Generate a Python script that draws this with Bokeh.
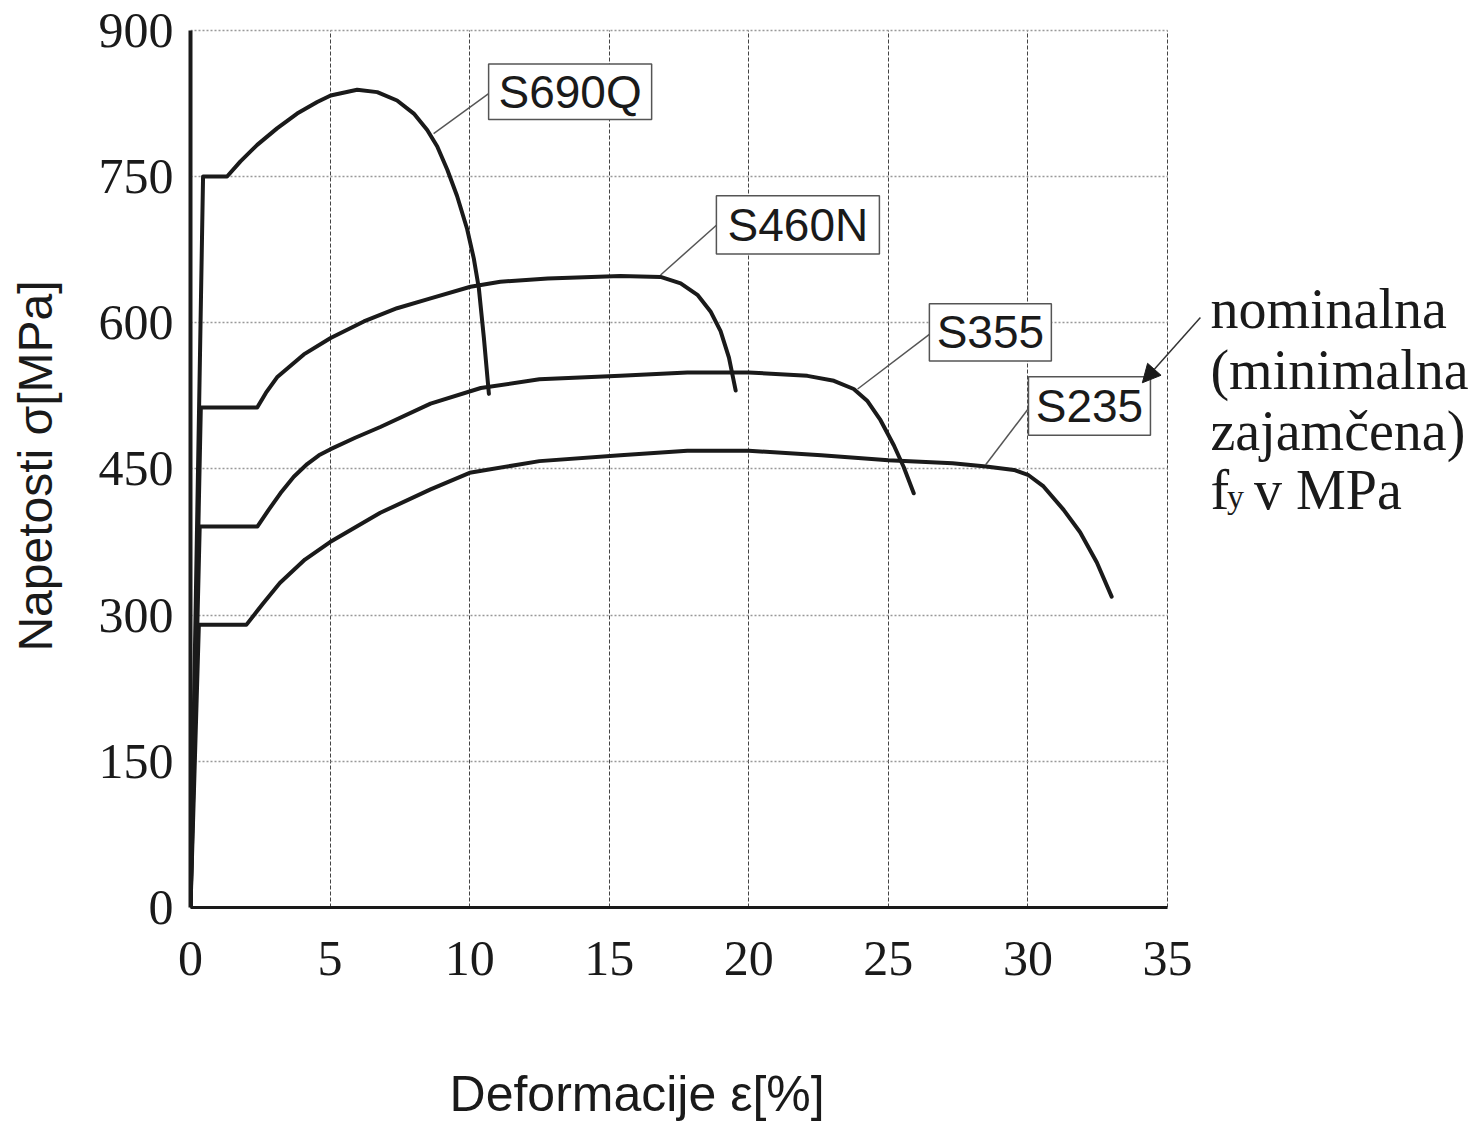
from bokeh.plotting import figure
from bokeh.models import FixedTicker, Label, Arrow, NormalHead, LinearAxis
from bokeh.core.properties import value
from bokeh.embed import file_html
from bokeh.resources import INLINE

# ---- data ----
strain_ticks = [0, 5, 10, 15, 20, 25, 30, 35]
stress_ticks = [0, 150, 300, 450, 600, 750, 900]

s235_x = [0, 0.3, 2.0, 2.6, 3.2, 4.1, 5.0, 6.8, 8.6, 10.0, 12.5, 15.4, 17.8, 20.0, 22.6, 25.0, 27.3,
          28.5, 29.5, 30.0, 30.56, 31.28, 31.87, 32.47, 33.0]
s235_y = [0, 290, 290, 312, 333, 357, 375, 405, 429, 446, 458, 464, 468.6, 468.6, 464, 459, 455.8,
          452.4, 449, 444, 432, 408, 385, 354, 319]

s355_x = [0, 0.33, 2.4, 2.8, 3.22, 3.7, 4.18, 4.6, 5.0, 5.9, 6.8, 8.6, 10.4, 12.5, 15.4, 17.8, 20.0,
          22.1, 23.05, 23.76, 24.24, 24.72, 25.2, 25.55, 25.91]
s355_y = [0, 391, 391, 408, 425, 442, 455, 464, 470, 482, 493, 517, 533, 542, 545.5, 549, 549,
          545.5, 540.4, 532, 520, 500, 474, 452, 425]

s460_x = [0, 0.37, 2.39, 2.7, 3.1, 4.06, 5.02, 6.21, 7.4, 8.6, 10.03, 11.1, 12.8, 15.4, 16.84, 17.56,
          18.16, 18.63, 18.99, 19.29, 19.53]
s460_y = [0, 513, 513, 528, 544, 567.5, 584.4, 601.3, 614.9, 625, 636.9, 642, 645.5, 648, 647, 640.3,
          628.6, 611.6, 591.3, 564.3, 530.5]

s690_x = [0, 0.45, 1.31, 1.79, 2.39, 3.1, 3.82, 4.54, 5.02, 5.97, 6.69, 7.4, 8.0, 8.48, 8.84, 9.2,
          9.55, 9.91, 10.15, 10.33, 10.51, 10.69]
s690_y = [0, 750, 750, 765.6, 782.5, 799.4, 814.6, 826.4, 833.2, 839, 836.6, 828, 814.6, 797.7, 780.8,
          757, 730, 696.2, 665.8, 635.4, 584.6, 527]

grade_names = ["S690Q", "S460N", "S355", "S235"]
box_left = [10.68, 18.84, 26.47, 30.02]
box_right = [16.52, 24.68, 30.84, 34.39]
box_bottom = [808.6, 670.4, 560.7, 484.5]
box_top = [865.5, 730.4, 619.6, 544.5]
leader_x0 = [8.71, 16.84, 23.9, 28.48]
leader_y0 = [794, 649, 532, 454]
leader_x1 = [10.68, 18.84, 26.47, 30.02]
leader_y1 = [835, 700, 588, 512]

note_lines = ["nominalna", "(minimalna", "zajamčena)"]
note_y = [614.6, 551.6, 488.6]

x_title = "Deformacije ε[%]"
y_title = "Napetosti σ[MPa]"
x_title_pos = 16

INK = "#1a1a1a"
X_END = 45.784
Y_END = 906

p = figure(width=1470, height=1124, x_range=(0, X_END), y_range=(0, Y_END),
           output_backend="svg", toolbar_location=None,
           min_border_left=190, min_border_right=2, min_border_top=24, min_border_bottom=212)
p.outline_line_color = None
p.background_fill_color = "white"

xax = p.xaxis[0]
yax = p.yaxis[0]

# grid
xax.ticker = FixedTicker(ticks=strain_ticks)
yax.ticker = FixedTicker(ticks=stress_ticks)
xax.bounds = (0, 35)
yax.bounds = (0, 900)
p.xgrid.grid_line_color = "#444444"
p.xgrid.grid_line_dash = "4 2"
p.xgrid.grid_line_width = 1
p.xgrid.bounds = (0, 35)
p.ygrid.grid_line_color = "#999999"
p.ygrid.grid_line_dash = "2 2"
p.ygrid.grid_line_width = 1.5
p.ygrid.bounds = (0, 900)
try:
    p.ygrid.cross_bounds = (0, 35)
    p.xgrid.cross_bounds = (0, 900)
except Exception:
    pass

# axes
for ax in (xax, yax):
    ax.major_tick_out = 0
    ax.major_tick_in = 0
    ax.minor_tick_out = 0
    ax.minor_tick_in = 0
    ax.axis_line_color = INK
    ax.major_label_text_font = "Liberation Serif"
    ax.major_label_text_font_size = "50px"
    ax.major_label_text_color = INK

xax.axis_line_width = 3
xax.major_label_standoff = 34

yax.axis_label = y_title
yax.axis_label_text_font = "Liberation Sans"
yax.axis_label_text_font_size = "48px"
yax.axis_label_text_font_style = "normal"
yax.axis_label_text_color = INK
yax.axis_line_width = 4
yax.major_label_standoff = 17
yax.axis_label_standoff = 34

# x-axis title carried by a label-only axis below the tick labels
title_axis = LinearAxis(ticker=FixedTicker(ticks=[x_title_pos]),
                        major_label_overrides={x_title_pos: x_title},
                        axis_line_color=None, major_tick_out=0, major_tick_in=0,
                        minor_tick_out=0, minor_tick_in=0, major_label_standoff=88,
                        major_label_text_font="Liberation Sans", major_label_text_font_size="50px",
                        major_label_text_color=INK)
p.add_layout(title_axis, "below")

# curves
for xs, ys in [(s235_x, s235_y), (s355_x, s355_y), (s460_x, s460_y), (s690_x, s690_y)]:
    p.line(xs, ys, line_color=INK, line_width=4, line_join="round", line_cap="round")

# leaders and label boxes
p.segment(leader_x0, leader_y0, leader_x1, leader_y1, line_color="#555555", line_width=1.5)
p.quad(left=box_left, right=box_right, bottom=box_bottom, top=box_top,
       fill_color="white", line_color="#555555", line_width=1.5)
p.text(x=[(a + b) / 2 for a, b in zip(box_left, box_right)],
       y=[(a + b) / 2 for a, b in zip(box_bottom, box_top)],
       text=grade_names, text_font=value("Liberation Sans"), text_font_size=value("46px"),
       text_color=INK, text_align="center", text_baseline="middle")

# side note
for t, yy in zip(note_lines, note_y):
    p.add_layout(Label(x=36.54, y=yy, text=t, text_font="Liberation Serif",
                       text_font_size="56px", text_color=INK, text_baseline="alphabetic"))
p.add_layout(Label(x=36.54, y=428.7, text="f", text_font="Liberation Serif",
                   text_font_size="56px", text_color=INK, text_baseline="alphabetic"))
p.add_layout(Label(x=37.13, y=422.0, text="y", text_font="Liberation Serif",
                   text_font_size="34px", text_color=INK, text_baseline="alphabetic"))
p.add_layout(Label(x=38.1, y=428.7, text="v MPa", text_font="Liberation Serif",
                   text_font_size="56px", text_color=INK, text_baseline="alphabetic"))

p.add_layout(Arrow(end=NormalHead(size=18, fill_color=INK, line_color=INK),
                   x_start=36.18, y_start=605.4, x_end=34.1, y_end=538.4,
                   line_color="#333333", line_width=1.5))

open("out.html", "w").write(file_html(p, INLINE))
